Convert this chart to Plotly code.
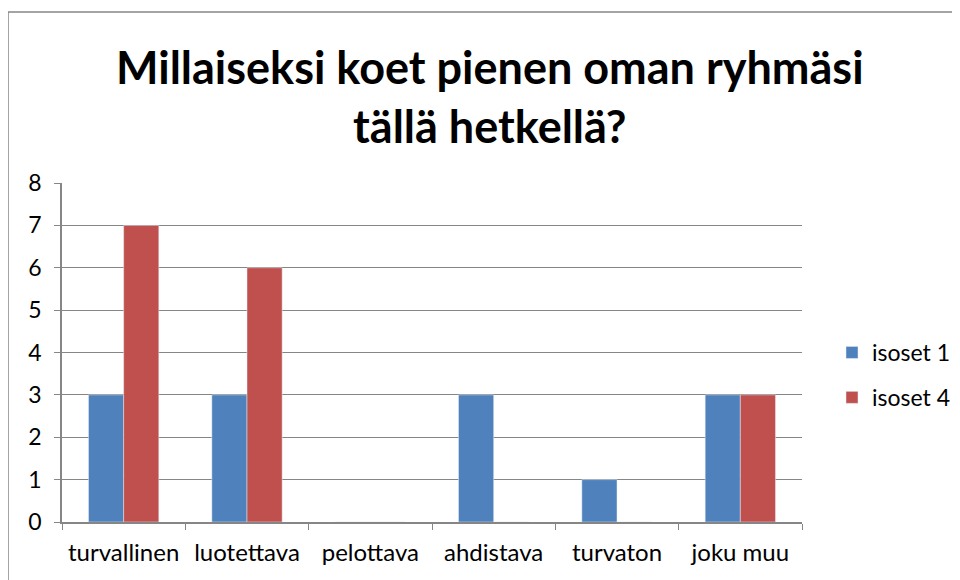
import plotly.graph_objects as go

categories = ["turvallinen", "luotettava", "pelottava", "ahdistava", "turvaton", "joku muu"]
isoset_1 = [3, 3, 0, 3, 1, 3]
isoset_4 = [7, 6, 0, 0, 0, 3]
y_ticks = [0, 1, 2, 3, 4, 5, 6, 7, 8]

FONT = "Lato, Open Sans, sans-serif"

fig = go.Figure()
fig.add_trace(go.Bar(x=categories, y=isoset_1, name="isoset 1", marker_color="#4F81BD", legendgroup="a"))
fig.add_trace(go.Bar(x=categories, y=isoset_4, name="isoset 4", marker_color="#C0504D", legendgroup="b"))

OFF = 8
W, H = 960, 580
L, R, T, B = 62 - OFF, 166, 183 - OFF, 58 + OFF
pw, ph = W - L - R, H - T - B

def fx(px):
    return (px - OFF - L) / pw

def fy(py):
    return (H - B - (py - OFF)) / ph

fig.update_layout(
    width=W, height=H,
    margin=dict(l=L, r=R, t=T, b=B),
    paper_bgcolor="white", plot_bgcolor="white",
    barmode="group", bargap=0.43, bargroupgap=0,
    font=dict(family=FONT, size=24, color="black"),
    showlegend=True,
    legend=dict(x=fx(832), y=fy(331), xanchor="left", yanchor="top",
                font=dict(size=23), itemwidth=30, tracegroupgap=12),
    xaxis=dict(showline=True, linecolor="#868686", linewidth=1.5,
               ticks="outside", tickson="boundaries", ticklen=6, tickcolor="#868686",
               tickfont=dict(size=24), showgrid=False, ticklabelstandoff=8),
    yaxis=dict(range=[0, 8], tickvals=y_ticks, showline=True, linecolor="#868686", linewidth=1.5,
               ticks="outside", ticklen=6, tickcolor="#868686",
               gridcolor="#868686", gridwidth=1.2, zeroline=False,
               tickfont=dict(size=23), ticklabelstandoff=8),
    annotations=[dict(text="<b>Millaiseksi koet pienen oman ryhmäsi<br>tällä hetkellä?</b>",
                      x=fx(490), y=fy(96), xref="paper", yref="paper",
                      xanchor="center", yanchor="middle", showarrow=False,
                      font=dict(size=45, family=FONT, color="black"))],
    shapes=[dict(type="rect", xref="paper", yref="paper",
                 x0=fx(8), x1=fx(975), y0=fy(595), y1=fy(12),
                 line=dict(color="#868686", width=1.5), fillcolor="rgba(0,0,0,0)", layer="below")],
)

fig.write_html("out.html")
